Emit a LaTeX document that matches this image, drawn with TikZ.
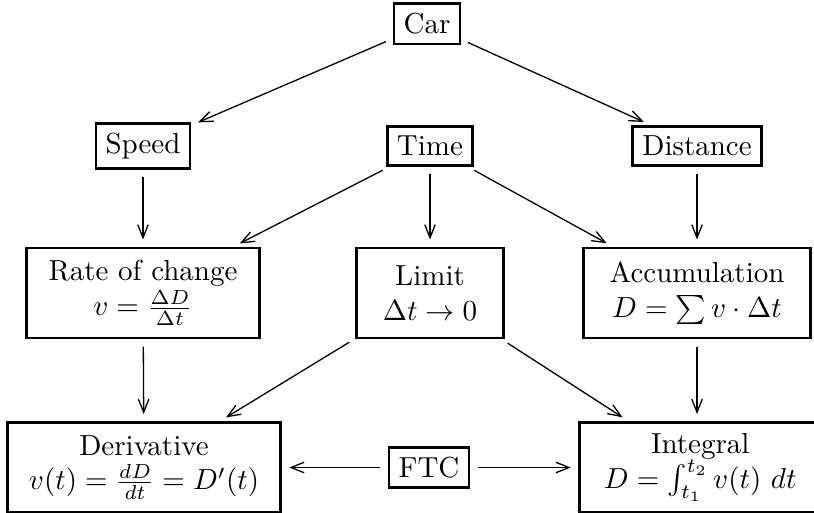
\documentclass[tikz,border=0pt]{standalone}
\usetikzlibrary{arrows.meta}
\begin{document}
\begin{tikzpicture}[x=0.3448pt,y=-0.3448pt,
  box/.style={draw,line width=0.9pt,inner sep=3.33pt},
  bigbox/.style={draw,line width=0.9pt,align=center,inner xsep=7.5pt,minimum height=31pt},
  link/.style={line width=0.45pt,-{Straight Barb[length=4.5pt,width=3.6pt]},shorten >=2.5pt,shorten <=2.5pt}]
\useasboundingbox (0,0) rectangle (814,513);
% top level
\node[box] (car) at (427,24) {Car};
% quantities
\node[box] (speed) at (143,146) {Speed};
\node[box] (time)  at (430,146) {Time};
\node[box] (dist)  at (697,146) {Distance};
% concepts
\node[bigbox] (rate)  at (143,293) {Rate of change\\ $v=\frac{\Delta D}{\Delta t}$};
\node[bigbox,inner xsep=9pt] (limit) at (430,293) {Limit\\ $\Delta t\to 0$};
\node[bigbox,inner xsep=9pt] (accum) at (697,293) {Accumulation\\ $D=\sum v\cdot\Delta t$};
% results
\node[bigbox] (deriv) at (144,467.5) {Derivative\\ $v(t)=\frac{dD}{dt}=D'(t)$};
\node[box] (ftc) at (429,467.5) {FTC};
\node[bigbox,anchor=west,minimum width=83.4pt] (integ) at (578,467.5) {Integral\\ $D=\int_{t_1}^{t_2}v(t)\ dt$};
% connectors
\draw[link] (car) -- (speed);
\draw[link] (car) -- (dist);
\draw[link] (speed) -- (rate);
\draw[link] (dist) -- (accum);
\draw[link] (time) -- (rate);
\draw[link] (time) -- (limit);
\draw[link] (time) -- (accum);
\draw[link] (rate) -- (deriv);
\draw[link] (accum) -- (integ.north -| accum);
\draw[link] (limit) -- (deriv);
\draw[link] (limit) -- (integ);
\draw[link] (ftc) -- (deriv);
\draw[link] (ftc) -- (integ);
\end{tikzpicture}
\end{document}
